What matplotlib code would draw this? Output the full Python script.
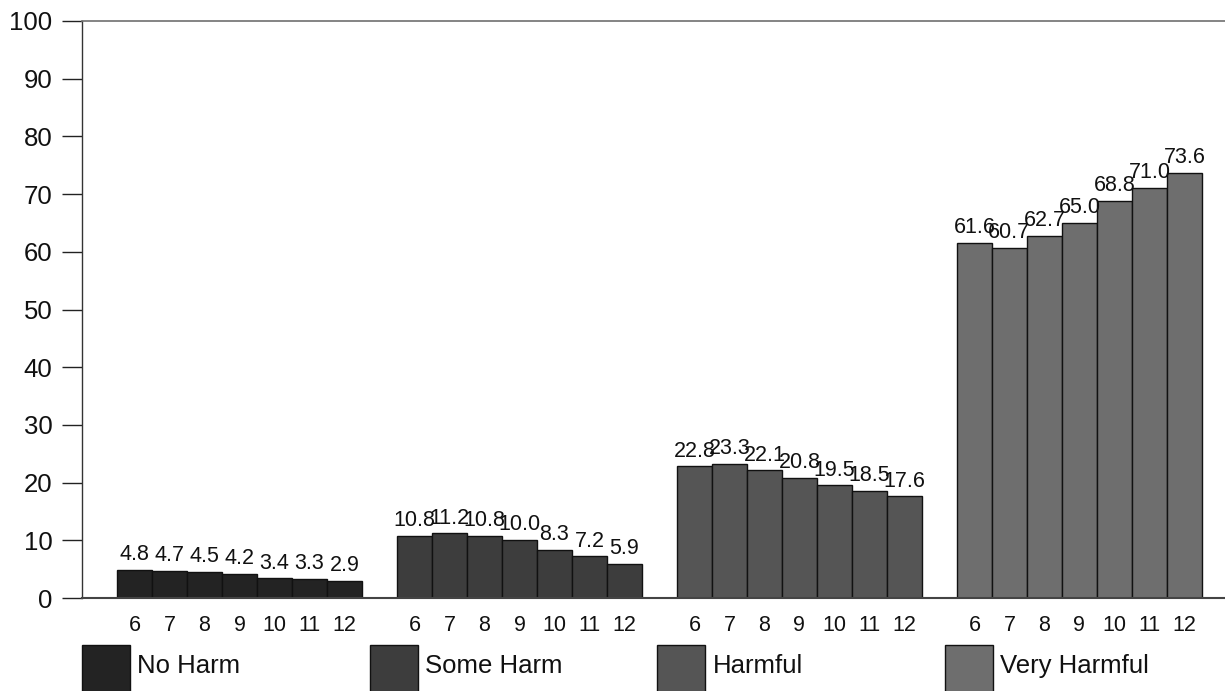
import matplotlib.pyplot as plt
from matplotlib.patches import Rectangle

plt.rcParams["font.family"] = ["Liberation Sans", "DejaVu Sans"]

# data
categories = ["No Harm", "Some Harm", "Harmful", "Very Harmful"]
grades = ["6", "7", "8", "9", "10", "11", "12"]
no_harm = [4.8, 4.7, 4.5, 4.2, 3.4, 3.3, 2.9]
some_harm = [10.8, 11.2, 10.8, 10.0, 8.3, 7.2, 5.9]
harmful = [22.8, 23.3, 22.1, 20.8, 19.5, 18.5, 17.6]
very_harmful = [61.6, 60.7, 62.7, 65.0, 68.8, 71.0, 73.6]

series = [no_harm, some_harm, harmful, very_harmful]
colors = ["#232323", "#3d3d3d", "#555555", "#6e6e6e"]

fig = plt.figure(figsize=(12.25, 6.91), dpi=100)
ax = fig.add_axes([82 / 1225, 93 / 691, 1 - 82 / 1225, 577 / 691])

group_step = len(grades) + 1
tick_pos, tick_lab = [], []
for g, (vals, color) in enumerate(zip(series, colors)):
    xs = [1.5 + g * group_step + i for i in range(len(vals))]
    ax.bar(xs, vals, width=1.0, color=color, edgecolor="#111111", linewidth=1)
    for x, v in zip(xs, vals):
        ax.annotate(f"{v:.1f}", (x, v), xytext=(0, 3.5), textcoords="offset points",
                    ha="center", va="bottom", fontsize=15.5, color="#111111")
    tick_pos += xs
    tick_lab += grades

ax.set_xlim(0, 32.66)
ax.set_ylim(0, 100)
ax.set_yticks(range(0, 101, 10))
ax.tick_params(axis="y", length=14.4, width=1, color="#222222", pad=7,
               labelsize=18.5, labelcolor="#111111")
ax.set_xticks(tick_pos)
ax.set_xticklabels(tick_lab)
ax.tick_params(axis="x", length=0, pad=12, labelsize=15.5, labelcolor="#111111")

ax.spines["right"].set_visible(False)
ax.spines["top"].set_color("#707070")
ax.spines["left"].set_color("#333333")
ax.spines["bottom"].set_color("#444444")
ax.spines["top"].set_linewidth(1.2)
ax.spines["left"].set_linewidth(1.0)
ax.spines["bottom"].set_linewidth(1.5)

# legend row along the bottom
W, H = 1225, 691
for k, (name, color) in enumerate(zip(categories, colors)):
    x0 = 82 + k * 287.7
    fig.add_artist(Rectangle((x0 / W, (H - 692) / H), 48 / W, 47 / H,
                             transform=fig.transFigure, facecolor=color,
                             edgecolor="#111111", linewidth=1))
    fig.text((x0 + 55) / W, (H - 666) / H, name, fontsize=18.5,
             va="center", ha="left", color="#111111")

fig.savefig("out.png", dpi=100)
